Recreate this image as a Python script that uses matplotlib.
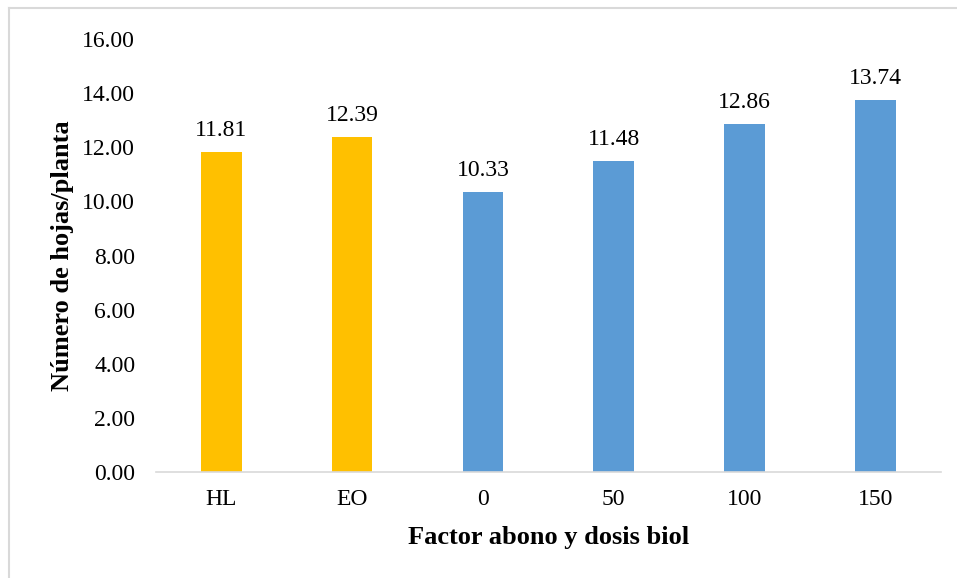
import matplotlib
matplotlib.use('Agg')
import matplotlib.pyplot as plt
from matplotlib.lines import Line2D

categorias = ['HL', 'EO', '0', '50', '100', '150']
valores = [11.81, 12.39, 10.33, 11.48, 12.86, 13.74]
colores = ['#FFC000', '#FFC000', '#5B9BD5', '#5B9BD5', '#5B9BD5', '#5B9BD5']

plt.rcParams['font.family'] = ['Liberation Serif', 'DejaVu Serif']

fig = plt.figure(figsize=(9.57, 5.78), dpi=100)
ax = fig.add_axes([0.163, 0.1834, 0.82, 0.7491])

x = range(len(categorias))
bars = ax.bar(x, valores, width=0.31, color=colores, zorder=2)

for b, v in zip(bars, valores):
    ax.annotate(f'{v:.2f}', (b.get_x() + b.get_width() / 2, v),
                xytext=(0, 8), textcoords='offset points',
                ha='center', va='bottom', fontsize=17)

ax.set_xlim(-0.5, len(categorias) - 0.5)
ax.set_ylim(0, 16)
ax.set_yticks(range(0, 17, 2))
ax.set_yticklabels([f'{t:.2f}' for t in range(0, 17, 2)])
ax.set_xticks(list(x))
ax.set_xticklabels(categorias)
ax.tick_params(axis='y', length=0, pad=15, labelsize=17)
ax.tick_params(axis='x', length=0, pad=12, labelsize=17)

for spine in ['top', 'right', 'left']:
    ax.spines[spine].set_visible(False)
ax.spines['bottom'].set_color('#d9d9d9')
ax.spines['bottom'].set_linewidth(1.2)

ax.set_xlabel('Factor abono y dosis biol', fontsize=19, fontweight='bold', labelpad=12)
ax.set_ylabel('Número de hojas/planta', fontsize=19, fontweight='bold', labelpad=6)

# marco gris del gráfico
fig.add_artist(Line2D([9 / 957, 9 / 957], [0, 1 - 8 / 578], transform=fig.transFigure,
                      color='#d9d9d9', lw=1.5))
fig.add_artist(Line2D([9 / 957, 1], [1 - 8 / 578, 1 - 8 / 578], transform=fig.transFigure,
                      color='#d9d9d9', lw=1.5))

fig.savefig('out.png', dpi=100)
